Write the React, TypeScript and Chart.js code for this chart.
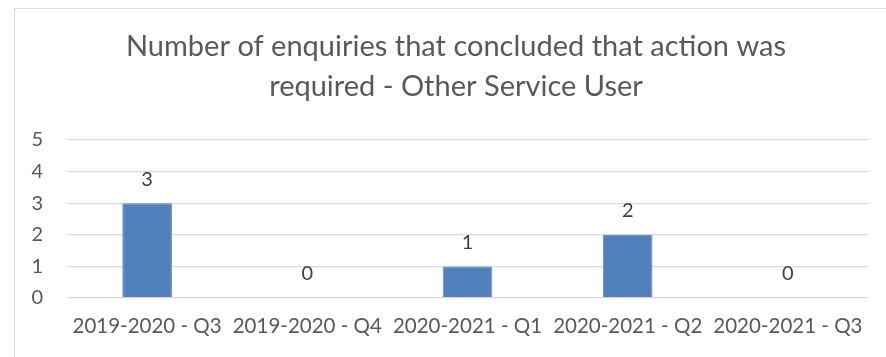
import React, { useEffect, useRef } from "react";
import { Chart, registerables } from "chart.js";

Chart.register(...registerables);

const categories = [
  "2019-2020 - Q3",
  "2019-2020 - Q4",
  "2020-2021 - Q1",
  "2020-2021 - Q2",
  "2020-2021 - Q3",
];
const values = [3, 0, 1, 2, 0];
const titleLines = [
  "Number of enquiries that concluded that action was",
  "required - Other Service User",
];
const yMin = 0;
const yMax = 5;

const FONT = "Lato, 'Open Sans', sans-serif";
const TEXT = "#595959";

const valueLabels = {
  id: "valueLabels",
  afterDatasetsDraw(chart: any) {
    const ctx = chart.ctx;
    const meta = chart.getDatasetMeta(0);
    ctx.save();
    ctx.font = `20px ${FONT}`;
    ctx.fillStyle = "#404040";
    ctx.textAlign = "center";
    ctx.textBaseline = "middle";
    meta.data.forEach((bar: any, i: number) => {
      const v = chart.data.datasets[0].data[i];
      ctx.fillText(String(v), bar.x, bar.y - 24);
    });
    ctx.restore();
  },
};

export default function App() {
  const ref = useRef<HTMLCanvasElement>(null);
  useEffect(() => {
    if (!ref.current) return;
    const chart = new Chart(ref.current, {
      type: "bar",
      data: {
        labels: categories,
        datasets: [
          {
            data: values,
            backgroundColor: "#4F81BD",
            borderColor: "#5B8BC4",
            borderWidth: 1,
            barPercentage: 0.31,
            categoryPercentage: 1,
            yAxisID: "y",
          },
        ],
      },
      options: {
        responsive: false,
        animation: false,
        layout: { padding: { left: 26, right: 0, top: 0, bottom: 0 } },
        plugins: {
          legend: { display: false },
          tooltip: { enabled: false },
          title: {
            display: true,
            text: titleLines,
            color: TEXT,
            font: { family: FONT, size: 29, weight: "normal", lineHeight: 1.38 },
            padding: { top: 27, bottom: 33 },
          },
        },
        scales: {
          x: {
            grid: { display: false, drawTicks: false },
            border: { display: false },
            ticks: {
              color: TEXT,
              font: { family: FONT, size: 20.5 },
              padding: 16,
              maxRotation: 0,
              autoSkip: false,
            },
            afterFit: (s: any) => {
              s.height = 59;
            },
          },
          y: {
            min: yMin,
            max: yMax,
            grid: { color: "#D9D9D9", lineWidth: 1.3, drawTicks: false },
            border: { display: false },
            ticks: {
              stepSize: 1,
              color: TEXT,
              font: { family: FONT, size: 20 },
              padding: 24,
            },
            afterFit: (s: any) => {
              s.width = 41;
            },
          },
          y2: {
            position: "right",
            display: true,
            min: yMin,
            max: yMax,
            grid: { display: false, drawTicks: false },
            border: { display: false },
            ticks: { display: false },
            afterFit: (s: any) => {
              s.width = 18;
            },
          },
        },
      },
      plugins: [valueLabels],
    });
    return () => chart.destroy();
  }, []);

  return (
    <div
      style={{
        position: "absolute",
        left: 0,
        top: 0,
        width: 886,
        height: 357,
        overflow: "hidden",
        background: "#fff",
      }}
    >
      <div
        style={{
          position: "absolute",
          left: 14,
          top: 8,
          width: 1000,
          height: 500,
          border: "1.5px solid #D9D9D9",
          boxSizing: "border-box",
        }}
      />
      <canvas
        ref={ref}
        width={886}
        height={357}
        style={{ position: "absolute", left: 0, top: 0 }}
      />
    </div>
  );
}
